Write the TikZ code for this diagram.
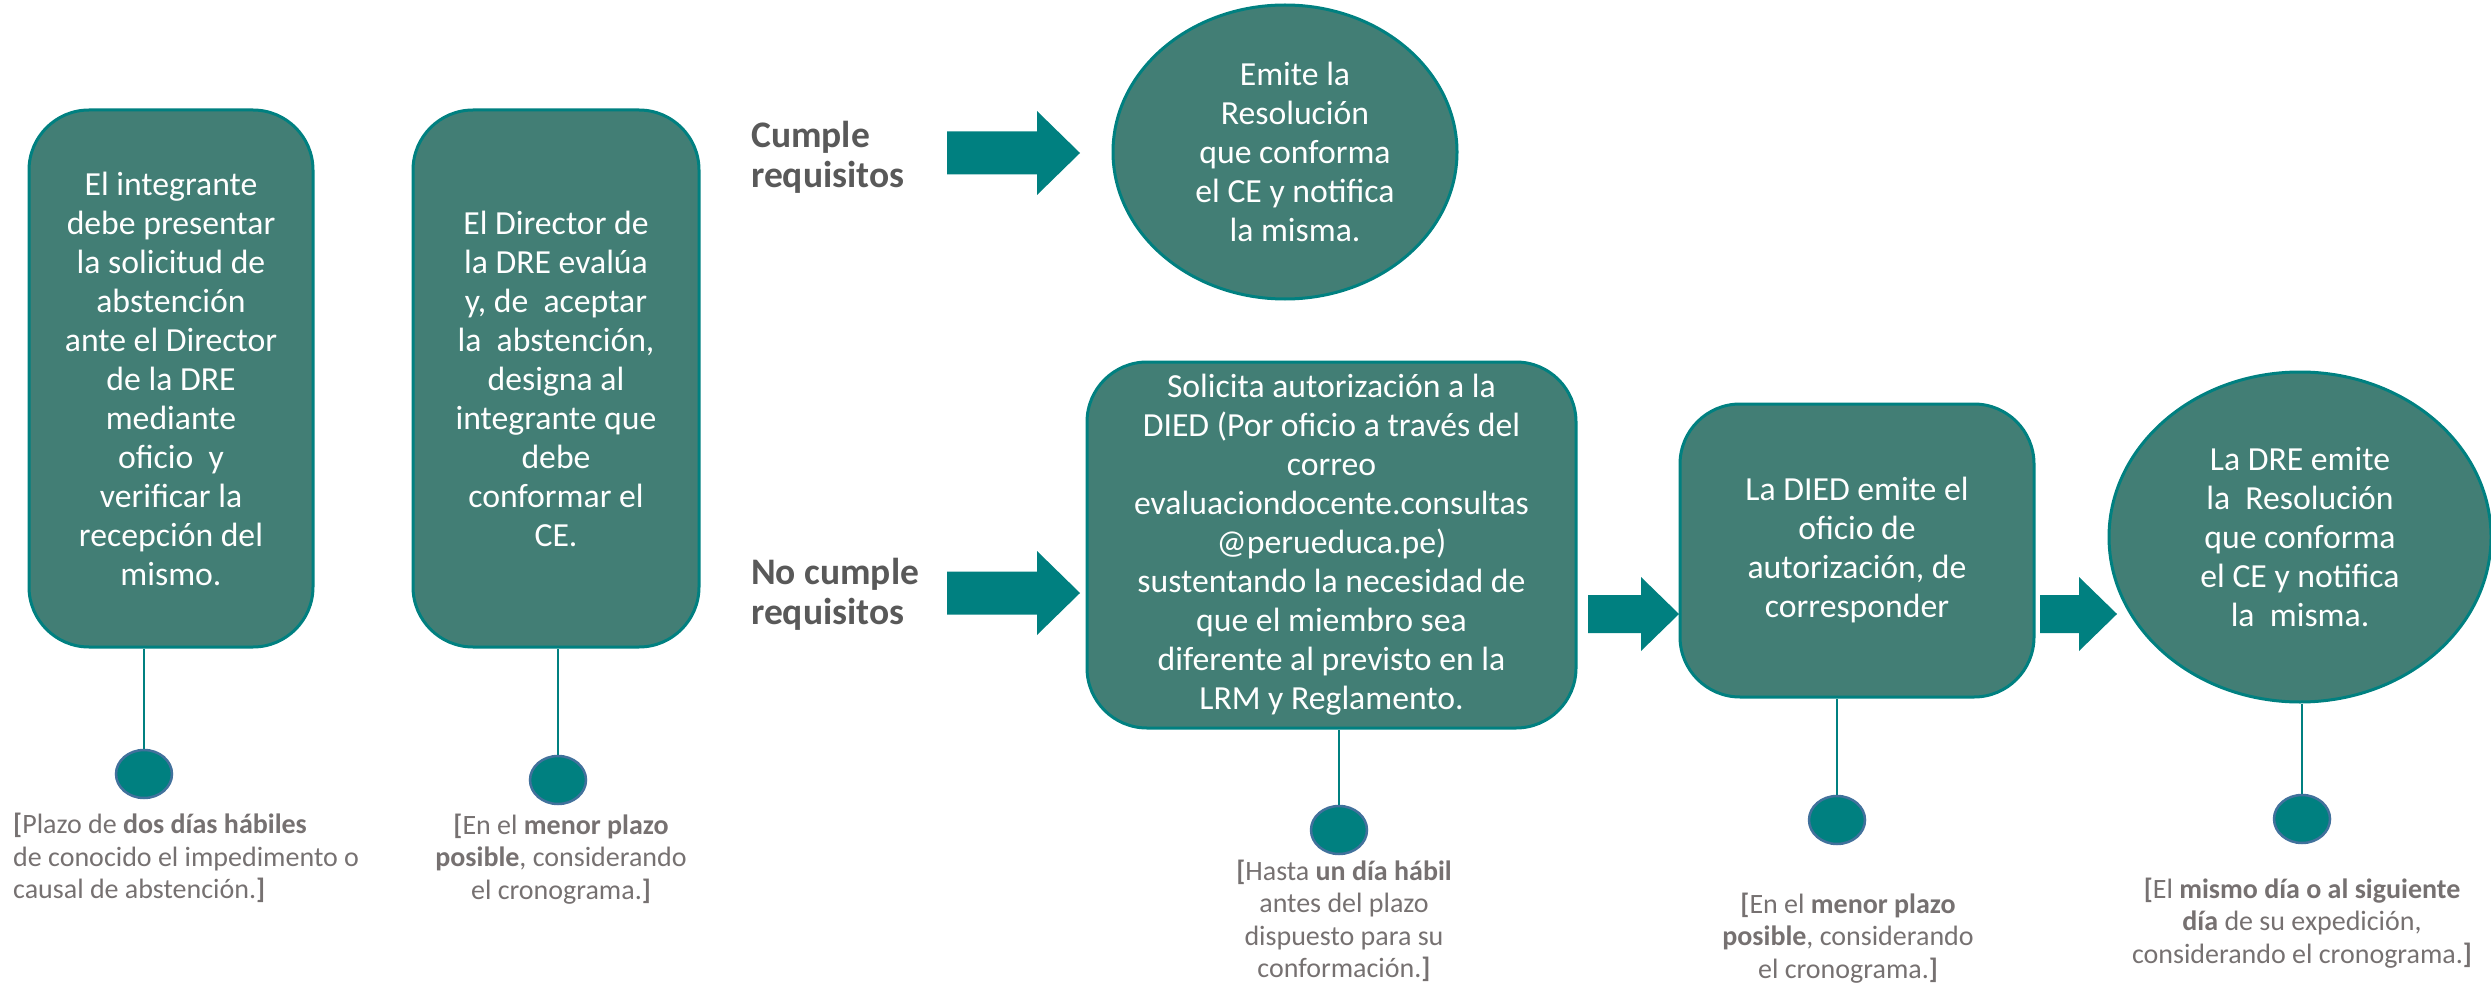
\documentclass[tikz,border=0pt]{standalone}
\usepackage{fontspec}
\setmainfont{Carlito}
\usetikzlibrary{positioning,shapes.geometric}

\definecolor{verdecaja}{RGB}{66,126,117}
\definecolor{verdeborde}{RGB}{0,128,128}
\definecolor{verdeflecha}{RGB}{0,128,128}
\definecolor{azulpunto}{RGB}{65,113,156}
\definecolor{grisplazo}{RGB}{118,113,113}
\definecolor{griscond}{RGB}{89,89,89}

\tikzset{
	caja/.style={draw=verdeborde, line width=3pt, fill=verdecaja, rounded corners=60pt,
		text=white, align=center, inner sep=0pt, font=\fontsize{33.7}{39}\selectfont},
	ovalo/.style={ellipse, draw=verdeborde, line width=3pt, fill=verdecaja,
		text=white, align=center, inner sep=0pt, font=\fontsize{33.7}{39}\selectfont},
	punto/.style={ellipse, fill=verdeflecha, draw=azulpunto, line width=2.5pt,
		minimum width=56pt, minimum height=48pt, inner sep=0pt},
	linea/.style={draw=verdeborde, line width=2pt},
	plazo/.style={text=grisplazo, align=center, inner sep=0pt, font=\fontsize{28}{32.5}\selectfont},
	condicion/.style={text=griscond, align=left, anchor=west, inner sep=0pt,
		font=\bfseries\fontsize{37.5}{40}\selectfont}
}

% flecha gruesa: x inicio, y centro, largo cuerpo, largo punta, medio cuerpo, media punta
\newcommand{\flecha}[6]{%
	\fill[verdeflecha] (#1,{#2-#5}) -- ({#1+#3},{#2-#5}) -- ({#1+#3},{#2-#6})
		-- ({#1+#3+#4},#2) -- ({#1+#3},{#2+#6}) -- ({#1+#3},{#2+#5}) -- (#1,{#2+#5}) -- cycle;}

\begin{document}
\begin{tikzpicture}[x=1pt,y=-1pt]
	\useasboundingbox (0,0) rectangle (2491,984);

	% pasos
	\node[caja, minimum width=284pt, minimum height=537pt] (b1) at (171,378.5)
		{El integrante\\debe presentar\\la solicitud de\\abstención\\ante el Director\\de la DRE\\mediante\\oficio\ \ y\\verificar la\\recepción del\\mismo.};
	\node[caja, minimum width=286pt, minimum height=537pt] (b2) at (556,378.5)
		{El Director de\\la DRE evalúa\\y, de\ \ aceptar\\la\ \ abstención,\\designa al\\integrante que\\debe\\conformar el\\CE.};
	\node[ovalo, minimum width=344pt, minimum height=294pt] (e1) at (1285,152) {};
	\node[text=white, align=center, inner sep=0pt, font=\fontsize{33.7}{39}\selectfont]
		(e1t) at ([xshift=10pt]e1.center)
		{Emite la\\Resolución\\que conforma\\el CE y notifica\\la misma.};
	\node[caja, minimum width=489pt, minimum height=366pt] (b3) at (1331.5,545)
		{Solicita autorización a la\\DIED (Por oficio a través del\\correo\\evaluaciondocente.consultas\\@perueduca.pe)\\sustentando la necesidad de\\que el miembro sea\\diferente al previsto en la\\LRM y Reglamento.};
	\node[caja, minimum width=354pt, minimum height=293pt] (b4) at (1857,550.5)
		{La DIED emite el\\oficio de\\autorización, de\\corresponder};
	\node[ovalo, minimum width=382pt, minimum height=330pt] (e2) at (2300,537)
		{La DRE emite\\la\ \ Resolución\\que conforma\\el CE y notifica\\la\ \ misma.};

	% condiciones
	\node[condicion] (si) at (751,157) {Cumple\\requisitos};
	\node[condicion] (no) at (751,594) {No cumple\\requisitos};
	\flecha{947}{153}{90}{43}{21.5}{42}
	\flecha{947}{593}{90}{43}{21.5}{42}
	\flecha{1588}{614}{53}{38}{19}{37}
	\flecha{2040}{614}{39}{38}{19}{37}

	% plazos
	\node[punto] (p1) at (144,774) {};
	\node[punto] (p2) at (558,780) {};
	\node[punto] (p3) at (1339,830) {};
	\node[punto] (p4) at (1837,820) {};
	\node[punto] (p5) at (2302,819) {};
	\draw[linea] (p1.north) -- (p1.north |- b1.south);
	\draw[linea] (p2.north) -- (p2.north |- b2.south);
	\draw[linea] (p3.north) -- (p3.north |- b3.south);
	\draw[linea] (p4.north) -- (p4.north |- b4.south);
	\draw[linea] (p5.north) -- (p5.north |- e2.south);

	\node[plazo, align=left, anchor=west] (t1) at (13,858)
		{\textbf{[}Plazo de \textbf{dos días hábiles}\\de conocido el impedimento o\\causal de abstención.\textbf{]}};
	\node[plazo] (t2) at (561,859)
		{\textbf{[}En el \textbf{menor plazo}\\\textbf{posible}, considerando\\el cronograma.\textbf{]}};
	\node[plazo] (t3) at (1344,921)
		{\textbf{[}Hasta \textbf{un día hábil}\\antes del plazo\\dispuesto para su\\conformación.\textbf{]}};
	\node[plazo] (t4) at (1848,938)
		{\textbf{[}En el \textbf{menor plazo}\\\textbf{posible}, considerando\\el cronograma.\textbf{]}};
	\node[plazo] (t5) at (2302,923)
		{\textbf{[}El \textbf{mismo día o al siguiente}\\\textbf{día} de su expedición,\\considerando el cronograma.\textbf{]}};
\end{tikzpicture}
\end{document}
